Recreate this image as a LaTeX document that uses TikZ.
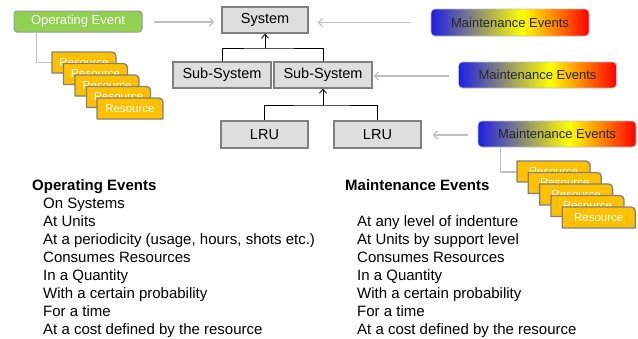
\documentclass[tikz,border=0pt]{standalone}
\usepackage{fontspec}
\setmainfont{Liberation Sans}
\usetikzlibrary{arrows.meta,calc}
\definecolor{boxfill}{HTML}{DEDEDE}
\definecolor{boxline}{HTML}{808080}
\definecolor{oefill}{HTML}{92D050}
\definecolor{resfill}{HTML}{FFC000}
\definecolor{lgray}{HTML}{C0C0C0}
\definecolor{mblue}{HTML}{1E1EE6}
\pgfdeclarehorizontalshading{megrad}{100bp}{color(0bp)=(mblue); color(25bp)=(mblue); color(54bp)=(yellow); color(75bp)=(red); color(100bp)=(red)}
\tikzset{
  hbox/.style={draw=boxline, fill=boxfill, line width=1.3pt, inner sep=0pt, font=\fontsize{14.5}{16}\selectfont},
  oebox/.style={draw=lgray!80!black, fill=oefill, line width=1pt, rounded corners=3pt, inner sep=0pt, minimum width=128pt, minimum height=21pt, text=white, font=\fontsize{13}{15}\selectfont},
  mebox/.style={draw=lgray, shading=megrad, line width=0.6pt, rounded corners=4pt, inner sep=0pt, minimum width=158pt, minimum height=26pt, text=black!85, font=\fontsize{13}{15}\selectfont},
  restext/.style={inner sep=0pt, text=white, font=\fontsize{11.5}{13}\selectfont},
  resshape/.style={draw=boxline, fill=resfill, line width=1.3pt, line join=round},
  garrow/.style={draw=lgray, line width=1.2pt, -{Straight Barb[length=4pt,width=8pt]}},
  gline/.style={draw=lgray, line width=1.5pt},
  bline/.style={draw=black, line width=0.8pt},
  barrow/.style={draw=black, line width=0.8pt, -{Straight Barb[length=4pt,width=7pt]}},
  head/.style={anchor=base west, inner sep=0pt, font=\fontsize{15}{18}\selectfont\bfseries},
  item/.style={anchor=base west, inner sep=0pt, font=\fontsize{15}{18}\selectfont},
}
% name, center x, center y, width
\newcommand\resbox[4]{%
  \draw[resshape] (#2-#4/2,#3+10.5) -- (#2-#4/2,#3-10.5) -- (#2+#4/2-4,#3-10.5)
    .. controls (#2+#4/2-1.8,#3-10.5) and (#2+#4/2,#3-8.7) .. (#2+#4/2,#3-6.5)
    -- (#2+#4/2,#3+10.5) -- cycle;
  \node[restext, minimum width=#4pt, minimum height=21pt] (#1) at (#2,#3) {Resource};
}
\begin{document}
\begin{tikzpicture}[x=1pt,y=-1pt]
\useasboundingbox (0,0) rectangle (638,338);
% hierarchy
\node[hbox, minimum width=86pt, minimum height=26pt] (sys) at (265,20) {System};
\node[hbox, minimum width=98pt, minimum height=26pt] (ss1) at (222,75) {Sub-System};
\node[hbox, minimum width=98pt, minimum height=26pt] (ss2) at (323,75) {Sub-System};
\node[hbox, minimum width=87pt, minimum height=27pt] (lru1) at (264.5,134.5) {LRU};
\node[hbox, minimum width=87pt, minimum height=27pt] (lru2) at (377.5,134.5) {LRU};
\coordinate (j1) at (265,48);
\coordinate (j2) at (323,105);
\draw[bline] (ss1.north) |- (j1) -| (ss2.north);
\draw[barrow] (j1) -- (sys.south);
\draw[bline] (lru1.north) |- (j2) -| (lru2.north);
\draw[barrow] (j2) -- (ss2.south);
% operating event
\node[oebox] (oe) at (78,21.5) {Operating Event};
\draw[garrow] ($(oe.east)+(11,0.5)$) -- ($(oe.east -| sys.west)+(-7,0.5)$);
% maintenance events
\node[mebox, minimum height=27pt] (me1) at (510,22.5) {Maintenance Events};
\node[mebox] (me2) at (537.5,75) {Maintenance Events};
\node[mebox] (me3) at (557,134) {Maintenance Events};
\draw[garrow] ($(me1.west)+(-21,0)$) -- ($(me1.west -| sys.east)+(9,0)$);
\draw[garrow] ($(me2.west)+(-9,1)$) -- ($(me2.west -| ss2.east)+(1,1)$);
\draw[garrow] ($(me3.west)+(-10,1)$) -- ($(me3.west -| lru2.east)+(11,1)$);
% left resources
\coordinate (lc) at ($(oe.south west)+(23,0)$);
\draw[gline] (lc) |- (52,62.5);
\resbox{ra1}{84}{62.5}{64}
\resbox{ra2}{95.5}{74}{64}
\resbox{ra3}{107}{85.5}{64}
\resbox{ra4}{118.5}{97}{64}
\resbox{ra5}{130}{108.5}{66}
% right resources
\coordinate (rc) at ($(me3.south west)+(23,0)$);
\draw[gline] (rc) |- (517,172);
\resbox{rb1}{553.5}{171.5}{73}
\resbox{rb2}{564.8}{183}{73}
\resbox{rb3}{576.1}{194.5}{73}
\resbox{rb4}{587.4}{206}{73}
\resbox{rb5}{598.7}{217.5}{73}
% text lists
\node[head] (oh) at (32,190) {Operating Events};
\node[item] (o1) at (43,208.2) {On Systems};
\node[item] (o2) at (43,226.3) {At Units};
\node[item] (o3) at (43,244.4) {At a periodicity (usage, hours, shots etc.)};
\node[item] (o4) at (43,262.5) {Consumes Resources};
\node[item] (o5) at (43,280.6) {In a Quantity};
\node[item] (o6) at (43,298.7) {With a certain probability};
\node[item] (o7) at (43,316.8) {For a time};
\node[item] (o8) at (43,334.9) {At a cost defined by the resource};
\node[head] (mh) at (345,190) {Maintenance Events};
\node[item] (m1) at (357,226.6) {At any level of indenture};
\node[item] (m2) at (357,244.6) {At Units by support level};
\node[item] (m3) at (357,262.6) {Consumes Resources};
\node[item] (m4) at (357,280.6) {In a Quantity};
\node[item] (m5) at (357,298.7) {With a certain probability};
\node[item] (m6) at (357,316.8) {For a time};
\node[item] (m7) at (357,334.9) {At a cost defined by the resource};
\end{tikzpicture}
\end{document}
